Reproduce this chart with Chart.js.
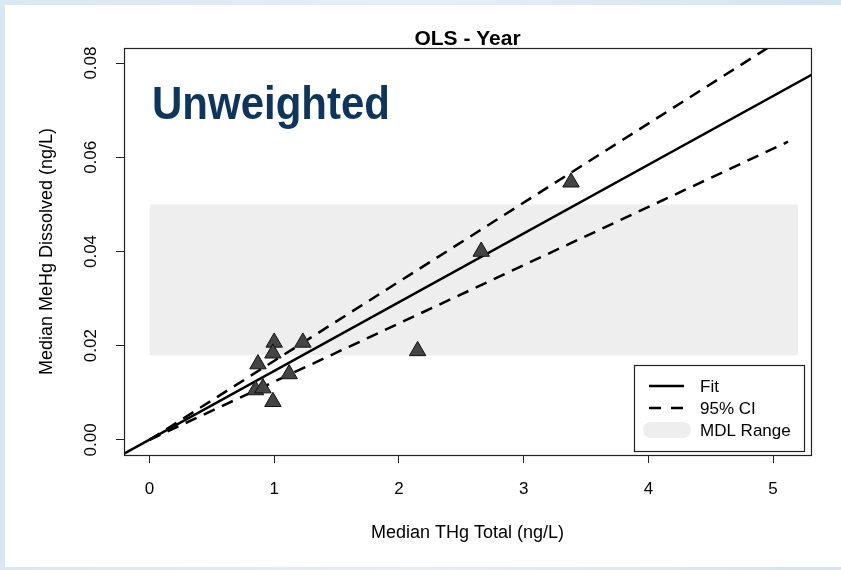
<!DOCTYPE html>
<html lang="en">
<head>
<meta charset="UTF-8" />
<title>OLS - Year</title>
<script src="https://cdn.jsdelivr.net/npm/chart.js"></script>
<style>
  html, body { margin: 0; padding: 0; }
  body {
    width: 841px;
    height: 570px;
    position: relative;
    overflow: hidden;
    background: linear-gradient(90deg, #d9e8f2, #e4eef5 50%, #d4e5f0);
  }
  #sheet { position: absolute; left: 5px; top: 5px; width: 836px; height: 562px; background: #fff; }
  #chart { position: absolute; left: 0; top: 0; }
</style>
</head>
<body>
<div id="sheet"></div>
<canvas id="chart" width="841" height="570"></canvas>

<script>
  const plotTitle = "OLS - Year";
  const plotNote = "Unweighted";
  const xTitle = "Median THg Total (ng/L)";
  const yTitle = "Median MeHg Dissolved (ng/L)";
  const xTicks = [0, 1, 2, 3, 4, 5];
  const yTicks = [0, 0.02, 0.04, 0.06, 0.08];

  // observations
  const thgTotal = [1.00, 1.23, 0.99, 0.87, 1.12, 0.85, 0.91, 0.99, 2.15, 2.66, 3.38];
  const mehgDissolved = [0.0207, 0.0207, 0.0184, 0.0161, 0.0140, 0.0106, 0.0110, 0.0081, 0.0189, 0.0400, 0.0547];

  // fit and confidence band, read at their ends
  const fitX = [-0.25, 5.35];
  const fitY = [-0.0036, 0.0781];
  const ciUpperX = [0, 5.2];
  const ciUpperY = [0, 0.0873];
  const ciLowerX = [0, 5.12];
  const ciLowerY = [0, 0.0633];

  // MDL range band
  const mdlX = [0, 5.2];
  const mdlLow = 0.018;
  const mdlHigh = 0.05;

  const legendLabels = ["Fit", "95% CI", "MDL Range"];

  const FONT = '"Liberation Sans", Arial, sans-serif';
  const pts = (xs, ys) => xs.map((x, i) => ({ x: x, y: ys[i] }));

  const decorations = {
    id: "decorations",
    afterDraw(chart) {
      const { ctx, chartArea: a } = chart;
      ctx.save();
      // box round the plot
      ctx.strokeStyle = "#222";
      ctx.lineWidth = 1.2;
      ctx.strokeRect(a.left + 0.5, a.top + 0.5, a.right - a.left, a.bottom - a.top);

      ctx.fillStyle = "#000";
      ctx.font = "bold 21px " + FONT;
      ctx.textAlign = "center";
      ctx.textBaseline = "alphabetic";
      ctx.fillText(plotTitle, (a.left + a.right) / 2, a.top - 3);

      ctx.save();
      ctx.fillStyle = "#0e365c";
      ctx.font = "bold 42px " + FONT;
      ctx.textAlign = "left";
      ctx.translate(a.left + 28, a.top + 71);
      ctx.scale(1, 1.08);
      ctx.fillText(plotNote, 0, 0);
      ctx.restore();

      // legend
      const lx = 634.5, ly = 365.5, lw = 170, lh = 86;
      ctx.fillStyle = "#fff";
      ctx.fillRect(lx, ly, lw, lh);
      ctx.strokeStyle = "#222";
      ctx.lineWidth = 1.2;
      ctx.strokeRect(lx, ly, lw, lh);

      const rows = [386, 408, 430];
      ctx.strokeStyle = "#000";
      ctx.lineWidth = 2.5;
      ctx.beginPath();
      ctx.moveTo(649, rows[0]);
      ctx.lineTo(684, rows[0]);
      ctx.stroke();
      ctx.setLineDash([12, 10]);
      ctx.beginPath();
      ctx.moveTo(649, rows[1]);
      ctx.lineTo(684, rows[1]);
      ctx.stroke();
      ctx.setLineDash([]);
      ctx.fillStyle = "#eeeeee";
      ctx.beginPath();
      ctx.roundRect(643, rows[2] - 8, 48, 16, 8);
      ctx.fill();

      ctx.fillStyle = "#000";
      ctx.font = "17px " + FONT;
      ctx.textAlign = "left";
      ctx.textBaseline = "middle";
      legendLabels.forEach((t, i) => ctx.fillText(t, 700, rows[i] + 1));
      ctx.restore();
    }
  };

  new Chart(document.getElementById("chart"), {
    type: "scatter",
    data: {
      datasets: [
        {
          label: "Observed",
          data: pts(thgTotal, mehgDissolved),
          pointStyle: "triangle",
          pointRadius: 9.5,
          pointBackgroundColor: "#444444",
          pointBorderColor: "#111",
          pointBorderWidth: 1,
          order: 0
        },
        {
          label: legendLabels[0],
          type: "line",
          data: pts(fitX, fitY),
          borderColor: "#000",
          borderWidth: 2.5,
          pointRadius: 0,
          fill: false,
          order: 1
        },
        {
          label: legendLabels[1],
          type: "line",
          data: pts(ciUpperX, ciUpperY),
          borderColor: "#000",
          borderWidth: 2.5,
          borderDash: [12, 8],
          pointRadius: 0,
          fill: false,
          order: 2
        },
        {
          label: legendLabels[1] + " low",
          type: "line",
          data: pts(ciLowerX, ciLowerY),
          borderColor: "#000",
          borderWidth: 2.5,
          borderDash: [12, 8],
          pointRadius: 0,
          fill: false,
          order: 3
        },
        {
          label: legendLabels[2],
          type: "line",
          data: pts(mdlX, [mdlHigh, mdlHigh]),
          borderWidth: 0,
          borderColor: "rgba(0,0,0,0)",
          backgroundColor: "#eeeeee",
          pointRadius: 0,
          fill: { value: mdlLow },
          order: 4
        }
      ]
    },
    options: {
      responsive: false,
      animation: false,
      devicePixelRatio: 1,
      layout: { padding: { top: 48, right: 30, left: 0, bottom: 0 } },
      plugins: {
        legend: { display: false },
        tooltip: { enabled: false }
      },
      scales: {
        x: {
          type: "linear",
          position: "bottom",
          min: -0.204,
          max: 5.304,
          afterBuildTicks: s => { s.ticks = xTicks.map(v => ({ value: v })); },
          afterFit: s => { s.height = 115; },
          border: { display: false },
          grid: { drawOnChartArea: false, drawTicks: true, tickLength: 8, color: "#222" },
          ticks: {
            color: "#000",
            font: { family: FONT, size: 17 },
            padding: 16,
            callback: v => String(v)
          },
          title: {
            display: true,
            text: xTitle,
            color: "#000",
            font: { family: FONT, size: 18 },
            padding: { top: 0, bottom: 26 }
          }
        },
        y: {
          type: "linear",
          min: -0.0032,
          max: 0.0832,
          afterBuildTicks: s => { s.ticks = yTicks.map(v => ({ value: v })); },
          afterFit: s => { s.width = 124; },
          border: { display: false },
          grid: { drawOnChartArea: false, drawTicks: true, tickLength: 8, color: "#222" },
          ticks: {
            color: "#000",
            font: { family: FONT, size: 17 },
            minRotation: 90,
            maxRotation: 90,
            crossAlign: "center",
            padding: 8,
            callback: v => Number(v).toFixed(2)
          },
          title: {
            display: true,
            text: yTitle,
            color: "#000",
            font: { family: FONT, size: 18 },
            padding: { top: 36, bottom: 0 }
          }
        }
      }
    },
    plugins: [decorations]
  });
</script>
</body>
</html>
